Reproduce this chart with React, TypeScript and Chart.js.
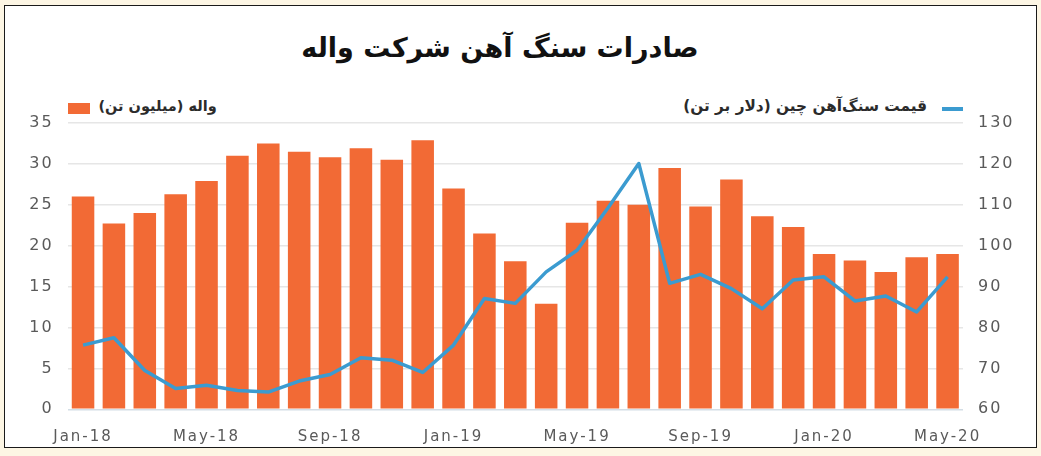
import React, { useEffect, useRef } from 'react';
import Chart from 'chart.js/auto';

// months shown on the category axis
const months = [
  'Jan-18', 'Feb-18', 'Mar-18', 'Apr-18', 'May-18', 'Jun-18', 'Jul-18', 'Aug-18', 'Sep-18', 'Oct-18', 'Nov-18', 'Dec-18',
  'Jan-19', 'Feb-19', 'Mar-19', 'Apr-19', 'May-19', 'Jun-19', 'Jul-19', 'Aug-19', 'Sep-19', 'Oct-19', 'Nov-19', 'Dec-19',
  'Jan-20', 'Feb-20', 'Mar-20', 'Apr-20', 'May-20',
];
const shownMonths = ['Jan-18', 'May-18', 'Sep-18', 'Jan-19', 'May-19', 'Sep-19', 'Jan-20', 'May-20'];

// Vale exports (million tonnes) - left axis
const valeExports = [
  26.0, 22.7, 24.0, 26.3, 27.9, 31.0, 32.5, 31.5, 30.8, 31.9, 30.5, 32.9,
  27.0, 21.5, 18.1, 12.9, 22.8, 25.5, 25.0, 29.5, 24.8, 28.1, 23.6, 22.3,
  19.0, 18.2, 16.8, 18.6, 19.0,
];

// China iron ore price (USD / tonne) - right axis
const orePrice = [
  75.7, 77.5, 69.5, 65.1, 65.9, 64.6, 64.2, 66.9, 68.5, 72.6, 72.0, 69.0,
  75.7, 87.1, 85.9, 93.6, 98.9, 109.2, 120.1, 90.8, 93.0, 89.5, 84.6, 91.6,
  92.4, 86.5, 87.7, 83.8, 92.4,
];

const leftRange = [0, 35, 5];
const rightRange = [60, 130, 10];

const TITLE = 'صادرات سنگ آهن شرکت واله';
const BAR_LABEL = 'واله (میلیون تن)';
const LINE_LABEL = 'قیمت سنگ‌آهن چین (دلار بر تن)';

const ORANGE = '#f26a35';
const BLUE = '#3b9bd0';
const FA = "'DejaVu Sans', sans-serif";

// the tick font in the source is quite wide, so open it up a bit
const spacing = {
  id: 'spacing',
  beforeLayout(c: any) { c.ctx.letterSpacing = '2px'; },
  beforeDraw(c: any) { c.ctx.letterSpacing = '2px'; },
};

const ComboChart: React.FC = () => {
  const ref = useRef<HTMLCanvasElement>(null);

  useEffect(() => {
    if (!ref.current) return;
    const chart = new Chart(ref.current, {
      type: 'bar',
      data: {
        labels: months,
        datasets: [
          {
            type: 'line',
            label: LINE_LABEL,
            data: orePrice,
            yAxisID: 'y1',
            borderColor: BLUE,
            borderWidth: 3.5,
            pointRadius: 0,
            tension: 0,
            borderJoinStyle: 'round',
            order: 0,
          } as any,
          {
            type: 'bar',
            label: BAR_LABEL,
            data: valeExports,
            yAxisID: 'y',
            backgroundColor: ORANGE,
            barPercentage: 0.73,
            categoryPercentage: 1,
            order: 1,
          },
        ],
      },
      options: {
        animation: false,
        responsive: true,
        maintainAspectRatio: false,
        layout: { padding: { top: 123, left: 10, right: 10, bottom: 0 } },
        plugins: { legend: { display: false }, tooltip: { enabled: false }, title: { display: false } },
        scales: {
          x: {
            grid: { display: false },
            border: { display: false },
            ticks: {
              autoSkip: false,
              maxRotation: 0,
              padding: 11,
              color: '#5a5a5a',
              font: { family: FA, size: 15 },
              callback: (_v: any, i: number) => (shownMonths.includes(months[i]) ? months[i] : ''),
            },
            afterFit: (s: any) => { s.height = 46.7; },
          },
          y: {
            position: 'left',
            min: leftRange[0],
            max: leftRange[1],
            grid: {
              drawTicks: false,
              color: (ctx: any) => (ctx.index === 0 ? '#d3dee6' : '#e6e6e6'),
              lineWidth: 1.5,
            },
            border: { display: false },
            ticks: { stepSize: leftRange[2], padding: 14, color: '#5a5a5a', font: { family: FA, size: 16 } },
            afterFit: (s: any) => { s.width = 57.6; },
          },
          y1: {
            position: 'right',
            min: rightRange[0],
            max: rightRange[1],
            grid: { display: false, drawTicks: false },
            border: { display: false },
            ticks: { stepSize: rightRange[2], padding: 15, color: '#5a5a5a', font: { family: FA, size: 16 } },
            afterFit: (s: any) => { s.width = 68; },
          },
        },
      } as any,
      plugins: [spacing],
    });
    return () => chart.destroy();
  }, []);

  return (
    <div style={{ position: 'absolute', left: 0, top: 0, width: 1041, height: 456 }}>
      <canvas ref={ref}></canvas>
    </div>
  );
};

const legendText: React.CSSProperties = {
  position: 'absolute', top: 94, direction: 'rtl', whiteSpace: 'nowrap',
  fontFamily: FA, fontWeight: 'bold', color: '#2b2b2b', lineHeight: '24px',
};

const App: React.FC = () => (
  <div style={{ position: 'fixed', left: 0, top: 0, width: 1041, height: 456, background: '#fdf6e4', overflow: 'hidden' }}>
    <div
      style={{
        position: 'absolute', left: 4, top: 5, width: 1031, height: 441,
        border: '1.5px solid #1a1a1a', background: '#ffffff',
      }}
    />
    <div
      style={{
        position: 'absolute', left: 0, width: 1000, top: 28, textAlign: 'center', direction: 'rtl',
        fontFamily: FA, fontWeight: 'bold', fontSize: 27, color: '#111', lineHeight: '40px',
      }}
    >
      {TITLE}
    </div>
    <div style={{ position: 'absolute', left: 68.3, top: 103.3, width: 22, height: 11, background: ORANGE }} />
    <div style={{ ...legendText, fontSize: 14.5, right: 1041 - 216.7 }}>{BAR_LABEL}</div>
    <div style={{ ...legendText, fontSize: 15.3, right: 1041 - 927 }}>{LINE_LABEL}</div>
    <div style={{ position: 'absolute', left: 942, top: 107, width: 21, height: 3.5, background: BLUE }} />
    <ComboChart />
  </div>
);

export default App;
